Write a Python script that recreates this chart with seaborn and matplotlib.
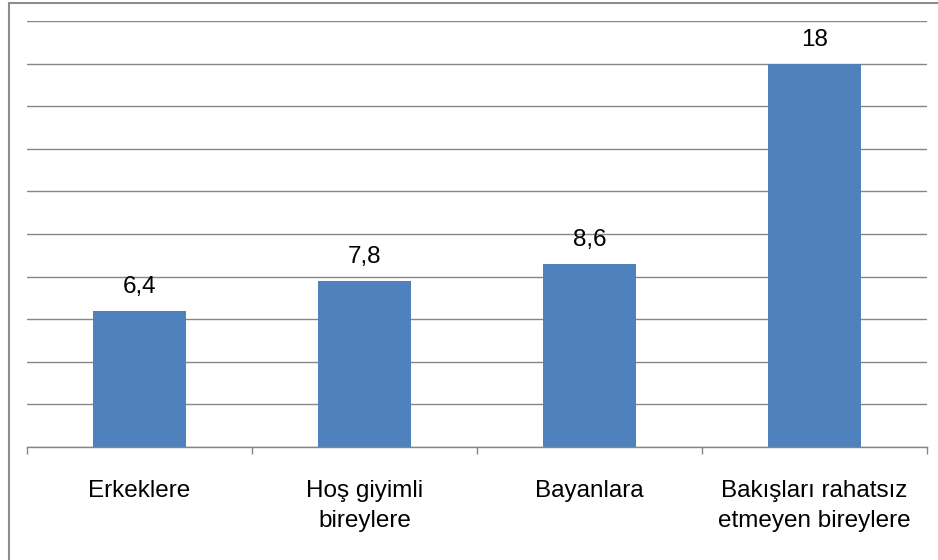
import matplotlib
matplotlib.use("Agg")
import matplotlib.pyplot as plt
import seaborn as sns
import pandas as pd

categories = ["Erkeklere", "Hoş giyimli\nbireylere", "Bayanlara", "Bakışları rahatsız\netmeyen bireylere"]
values = [6.4, 7.8, 8.6, 18]
value_labels = ["6,4", "7,8", "8,6", "18"]

df = pd.DataFrame({"kategori": categories, "deger": values})

sns.set_style("white")
plt.rcParams["font.family"] = ["Liberation Sans", "DejaVu Sans"]
plt.rcParams["text.color"] = "black"
plt.rcParams["xtick.color"] = "black"

fig = plt.figure(figsize=(9.38, 5.6), dpi=100)
ax = fig.add_axes([27 / 938, 1 - 447 / 560, 900 / 938, 426 / 560])

sns.barplot(data=df, x="kategori", y="deger", color="#4F81BD", width=0.41,
            saturation=1, edgecolor="none", linewidth=0, ax=ax)

ax.set_xlim(-0.5, 3.5)
ax.set_ylim(0, 20)
ax.set_yticks(range(0, 21, 2))
ax.yaxis.grid(True, color="#868686", linewidth=1)
ax.set_axisbelow(True)
ax.tick_params(axis="y", left=False, labelleft=False)
for s in ["left", "right", "top"]:
    ax.spines[s].set_visible(False)
ax.spines["bottom"].set_color("#868686")
ax.spines["bottom"].set_linewidth(1)

# category boundary ticks
ax.set_xticks([-0.5, 0.5, 1.5, 2.5, 3.5], minor=True)
ax.tick_params(axis="x", which="minor", bottom=True, length=5, color="#868686", width=1, direction="out")
ax.set_xticks(range(len(categories)))
ax.set_xticklabels(categories, linespacing=1.45, fontsize=17.5, color="black")
ax.tick_params(axis="x", which="major", bottom=True, length=0, pad=24)
ax.set_xlabel("")
ax.set_ylabel("")

ax.bar_label(ax.containers[0], labels=value_labels, padding=9, fontsize=17.5, color="black")

# outer frame (left and top edges visible)
fig.add_artist(plt.Line2D([9 / 938, 9 / 938], [0, 1 - 3 / 560], color="#8c8c8c", linewidth=1.5,
                          transform=fig.transFigure))
fig.add_artist(plt.Line2D([9 / 938, 1], [1 - 3 / 560, 1 - 3 / 560], color="#8c8c8c", linewidth=1.5,
                          transform=fig.transFigure))

plt.savefig("out.png", dpi=100)
